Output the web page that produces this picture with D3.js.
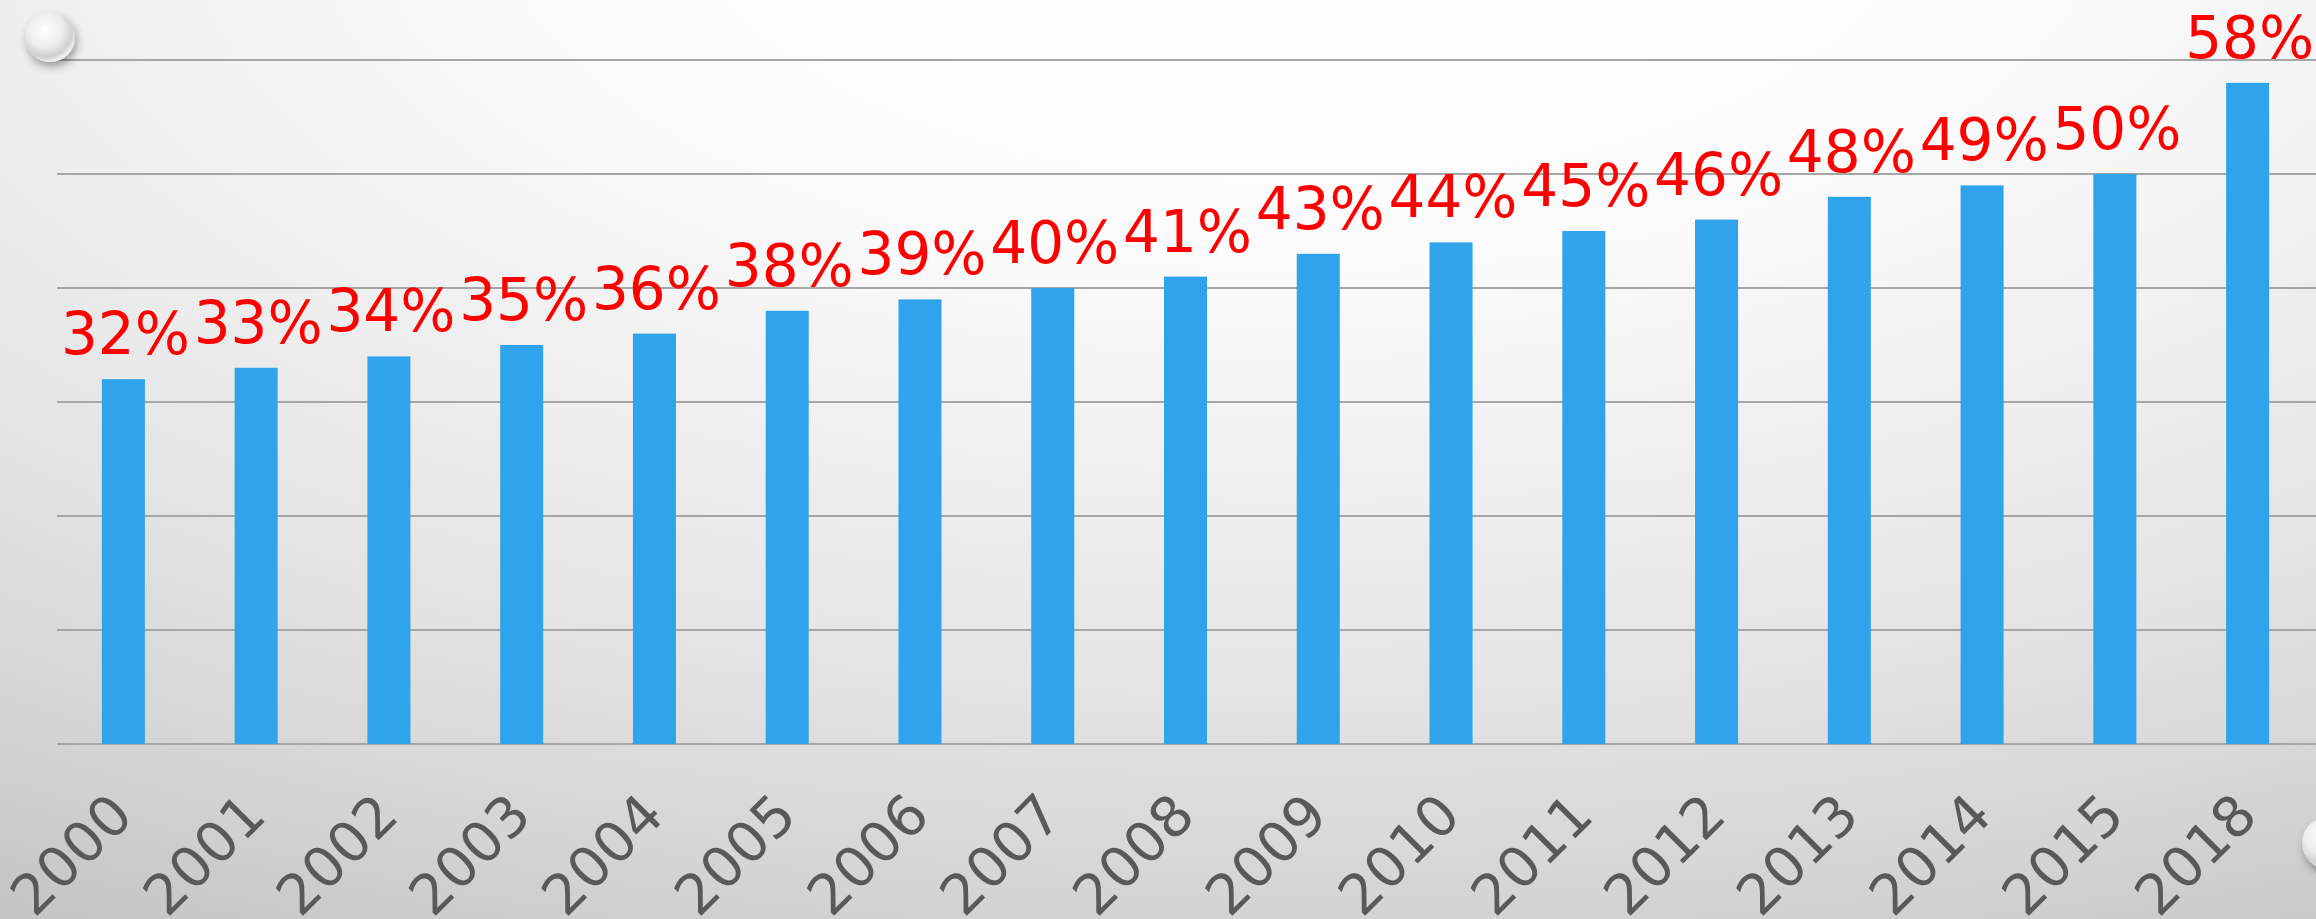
<!DOCTYPE html>
<html>
<head>
<meta charset="utf-8">
<script src="https://cdn.jsdelivr.net/npm/d3@7"></script>
<style>
  html, body { margin: 0; padding: 0; overflow: hidden; }
  svg { display: block; }
</style>
</head>
<body>
<svg id="chart" width="2316" height="919"></svg>
<script>
const years = ["2000","2001","2002","2003","2004","2005","2006","2007","2008","2009","2010","2011","2012","2013","2014","2015","2018"];
const shares = [32,33,34,35,36,38,39,40,41,43,44,45,46,48,49,50,58];
const gridTicks = [0,10,20,30,40,50,60];

const W = 2316, H = 919;
const svg = d3.select("#chart");
const defs = svg.append("defs");

const bg = defs.append("radialGradient").attr("id","bg")
  .attr("gradientUnits","userSpaceOnUse")
  .attr("cx", 1300).attr("cy", -100).attr("r", 1200)
  .attr("fx", 1300).attr("fy", -100)
  .attr("gradientTransform", "translate(1300,-100) scale(2.1667,1) translate(-1300,100)");
[["0%","#ffffff"],["30%","#fbfbfb"],["65%","#e5e5e5"],["85%","#d3d3d3"],["100%","#c2c2c2"]]
  .forEach(([o,c]) => bg.append("stop").attr("offset",o).attr("stop-color",c));

const sph = defs.append("radialGradient").attr("id","sph")
  .attr("cx","40%").attr("cy","35%").attr("r","65%");
sph.append("stop").attr("offset","0%").attr("stop-color","#ffffff");
sph.append("stop").attr("offset","55%").attr("stop-color","#ececec");
sph.append("stop").attr("offset","85%").attr("stop-color","#cfcfcf");
sph.append("stop").attr("offset","100%").attr("stop-color","#f2f2f2");

const shadow = defs.append("filter").attr("id","shadow").attr("x","-50%").attr("y","-50%").attr("width","200%").attr("height","200%");
shadow.append("feDropShadow").attr("dx",2).attr("dy",5).attr("stdDeviation",4).attr("flood-color","#000").attr("flood-opacity",0.35);

svg.append("rect").attr("width",W).attr("height",H).attr("fill","url(#bg)");

const x = d3.scaleBand().domain(years).range([57, 2314]).paddingInner(0.676).paddingOuter(0.338);
const y = d3.scaleLinear().domain([0,60]).range([744, 60]);

// gridlines
svg.append("g").selectAll("line").data(gridTicks).join("line")
  .attr("x1", 57).attr("x2", W)
  .attr("y1", d => y(d)).attr("y2", d => y(d))
  .attr("stroke","#a6a6a6").attr("stroke-width",2);

// bars
svg.append("g").selectAll("rect").data(years).join("rect")
  .attr("x", d => x(d))
  .attr("width", x.bandwidth())
  .attr("y", (d,i) => y(shares[i]))
  .attr("height", (d,i) => y(0) - y(shares[i]))
  .attr("fill","#2fa3ec");

// value labels
svg.append("g").selectAll("text").data(years).join("text")
  .attr("x", d => x(d) + x.bandwidth()/2 + 2)
  .attr("y", (d,i) => y(shares[i]) - 25)
  .attr("text-anchor","middle")
  .attr("font-family","'DejaVu Sans', sans-serif")
  .attr("font-size", 58)
  .attr("fill","#ff0000")
  .text((d,i) => shares[i] + "%");

// x axis labels
svg.append("g").selectAll("text").data(years).join("text")
  .attr("transform", d => `translate(${x(d) + x.bandwidth()/2 + 12},818) rotate(-45)`)
  .attr("text-anchor","end")
  .attr("font-family","'DejaVu Sans', sans-serif")
  .attr("font-size", 56)
  .attr("fill","#595959")
  .text(d => d);

// decorative spheres
svg.append("circle").attr("cx",50).attr("cy",37).attr("r",25)
  .attr("fill","url(#sph)").attr("filter","url(#shadow)");
svg.append("circle").attr("cx",2328).attr("cy",843).attr("r",26)
  .attr("fill","url(#sph)").attr("filter","url(#shadow)");
</script>
</body>
</html>
